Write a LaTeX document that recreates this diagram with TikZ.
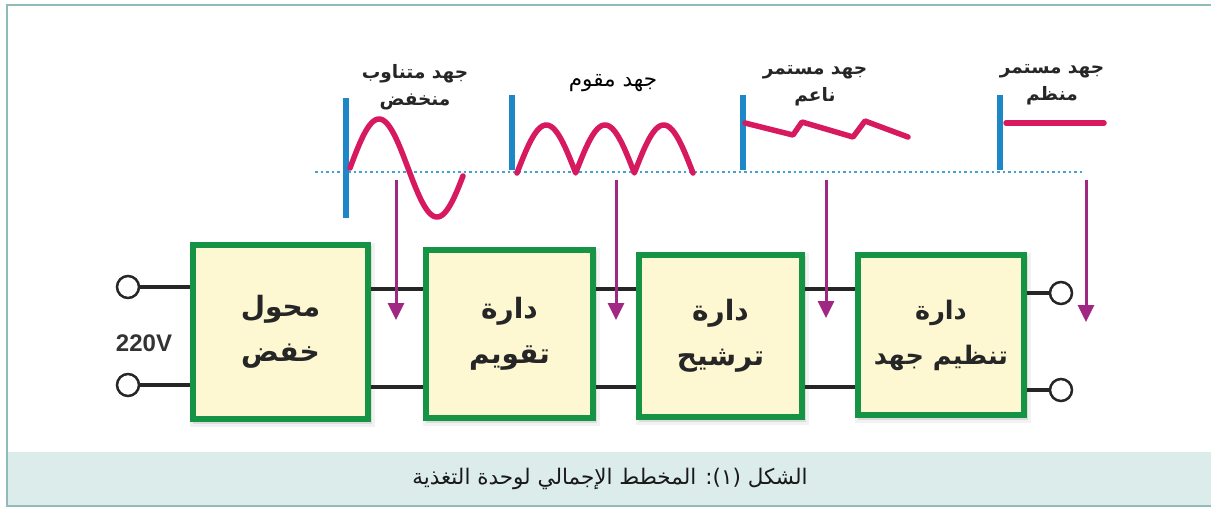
\documentclass[tikz,border=0pt]{standalone}
\usepackage{fontspec}
\usepackage{tikz}
\usetikzlibrary{arrows.meta,shadows}
\TeXXeTstate=1
\newfontfamily\arabicfont[Script=Arabic]{DejaVu Sans}
\newfontfamily\latinsans{Liberation Sans}
\definecolor{blkgreen}{RGB}{22,148,70}
\definecolor{blkfill}{RGB}{253,247,210}
\definecolor{barblue}{RGB}{30,135,200}
\definecolor{dotblue}{RGB}{70,160,210}
\definecolor{wavered}{RGB}{215,25,95}
\definecolor{arrpurple}{RGB}{160,40,130}
\definecolor{framegray}{RGB}{143,188,184}
\definecolor{capfill}{RGB}{219,236,234}
\newcommand{\ar}[1]{\beginR #1\endR}
\tikzset{
  blk/.style={draw=blkgreen, line width=6pt, fill=blkfill, align=center, text=black!85,
      font=\arabicfont\bfseries\fontsize{28}{45}\selectfont,
      general shadow={fill=black, opacity=0.05, shadow scale=1.06, shadow xshift=2pt, shadow yshift=-3pt},
      general shadow={fill=black, opacity=0.09, shadow scale=1.025, shadow xshift=2pt, shadow yshift=-3pt}},
  term/.style={circle, draw=black!85, line width=2.5pt, fill=white, minimum size=22pt, inner sep=0pt},
  rail/.style={line width=4pt, black!85},
  bar/.style={line width=5.5pt, barblue},
  dline/.style={line width=2.5pt, dotblue, dash pattern=on 2.5pt off 3pt},
  crv/.style={line width=5.5pt, wavered, line cap=round, line join=round},
  parr/.style={-{Triangle[length=17pt,width=16pt]}, line width=3pt, arrpurple},
  wlab/.style={align=center, text=black!85, font=\arabicfont\bfseries\fontsize{18.5}{27}\selectfont},
  rlab/.style={text=black, font=\arabicfont\fontsize{21.5}{24}\selectfont},
  captxt/.style={text=black!90, font=\arabicfont\fontsize{21.5}{24}\selectfont},
}
\begin{document}
\begin{tikzpicture}[x=1pt,y=-1pt]
\useasboundingbox (0,0) rectangle (1211,507);
\fill[capfill] (7,452) rectangle (1211,506);
\draw[framegray, line width=1.5pt] (1211,5) -- (7,5) -- (7,506) -- (1211,506);
\node[captxt] (caption) at (610,479) {\ar{الشكل (١):  المخطط الإجمالي لوحدة التغذية}};

% waveforms above the chain
\draw[dline] (315,172) -- (1083,172);
\foreach \x/\ya/\yb in {346/98/218, 512/95/170, 743/95/170, 1000/95/170}
  \draw[bar] (\x,\ya) -- (\x,\yb);
\draw[crv, domain=350:463, samples=80, smooth] plot (\x, {168-49*sin(3.1034*(\x-350))});
\draw[crv, domain=517:693, samples=121] plot (\x, {173-48*abs(sin(3.068*(\x-517)))});
\draw[crv] (745,123) -- (793,135) -- (802,122) -- (853,137) -- (865,121) -- (908,137);
\draw[crv] (1006,123) -- (1104,123);
\node[wlab] (lac) at (415,87) {\ar{جهد متناوب}\\\ar{منخفض}};
\node[rlab] (lrect) at (613,83) {\ar{جهد مقوم}};
\node[wlab] (lsmooth) at (815,86) {\ar{جهد مستمر}\\\ar{ناعم}};
\node[wlab] (lreg) at (1052,85) {\ar{جهد مستمر}\\\ar{منظم}};

% blocks
\node[blk, minimum width=175, minimum height=174] (trans) at (280.5,332) {\ar{محول}\\\ar{خفض}};
\node[blk, minimum width=167, minimum height=168] (rect) at (509.5,334) {\ar{دارة}\\\ar{تقويم}};
\node[blk, minimum width=163, minimum height=162] (filt) at (720.5,336) {\ar{دارة}\\\ar{ترشيح}};
\node[blk, minimum width=166, minimum height=160, font=\arabicfont\bfseries\fontsize{25.5}{45}\selectfont]
  (reg) at (941,335) {\ar{دارة}\\\ar{تنظيم جهد}};
\node[term] (inA) at (128,287) {};
\node[term] (inB) at (128,385) {};
\node[term] (outA) at (1061,293) {};
\node[term] (outB) at (1061,390) {};
\node[text=black!80, font=\latinsans\bfseries\fontsize{24}{24}\selectfont] (vin) at (144,343) {220V};
\coordinate (top) at (0,289);
\coordinate (bot) at (0,387);
\draw[rail] (inA) -- (inA -| trans.west);
\draw[rail] (inB) -- (inB -| trans.west);
\draw[rail] (outA) -- (outA -| reg.east);
\draw[rail] (outB) -- (outB -| reg.east);
\foreach \a/\b in {trans/rect, rect/filt, filt/reg} {
  \draw[rail] (\a.east |- top) -- (\b.west |- top);
  \draw[rail] (\a.east |- bot) -- (\b.west |- bot);
}
\foreach \x/\tip [count=\i] in {396/320, 616/320, 826/318, 1086/322} {
  \coordinate (s\i) at (\x,180);
  \coordinate (e\i) at (\x,\tip);
  \draw[parr] (s\i) -- (e\i);
}
\end{tikzpicture}
\end{document}
